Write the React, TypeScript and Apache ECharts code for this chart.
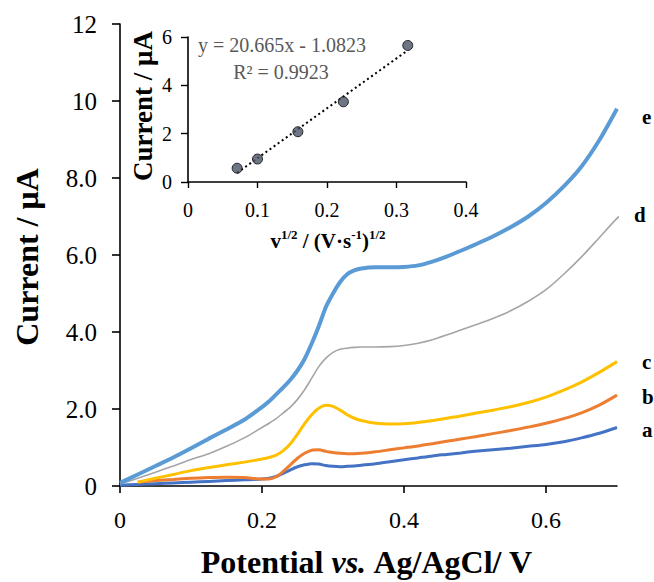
import React, { useEffect, useRef } from "react";
import * as echarts from "echarts";

// Main CV-like curves (Potential vs. Ag/AgCl / V  →  Current / µA)
const potentials = [
  0, 0.025, 0.05, 0.075, 0.1, 0.125, 0.15, 0.175, 0.2, 0.21, 0.22, 0.23, 0.24,
  0.25, 0.26, 0.27, 0.28, 0.29, 0.3, 0.31, 0.32, 0.33, 0.34, 0.36, 0.38, 0.4,
  0.42, 0.44, 0.46, 0.48, 0.5, 0.525, 0.55, 0.575, 0.6, 0.625, 0.65, 0.675, 0.7,
];
const curveA = [
  0.02, 0.04, 0.06, 0.08, 0.1, 0.12, 0.14, 0.16, 0.18, 0.2, 0.25, 0.33, 0.42,
  0.5, 0.55, 0.58, 0.57, 0.53, 0.51, 0.5, 0.51, 0.52, 0.54, 0.58, 0.63, 0.68,
  0.73, 0.78, 0.82, 0.86, 0.9, 0.94, 0.98, 1.03, 1.08, 1.15, 1.25, 1.37, 1.52,
];
const curveB = [
  null, 0.1, 0.14, 0.17, 0.2, 0.22, 0.23, 0.22, 0.18, 0.18, 0.24, 0.38, 0.55,
  0.72, 0.85, 0.93, 0.94, 0.9, 0.87, 0.85, 0.84, 0.84, 0.85, 0.89, 0.94, 0.99,
  1.04, 1.1, 1.16, 1.22, 1.28, 1.36, 1.44, 1.53, 1.63, 1.75, 1.9, 2.1, 2.36,
];
const curveC = [
  null, 0.1, 0.2, 0.3, 0.4, 0.48, 0.55, 0.62, 0.7, 0.74, 0.8, 0.92, 1.1, 1.35,
  1.62, 1.85, 2.02, 2.1, 2.07, 1.97, 1.85, 1.76, 1.7, 1.63, 1.61, 1.62, 1.65,
  1.7, 1.76, 1.82, 1.89, 1.97, 2.06, 2.17, 2.31, 2.49, 2.7, 2.95, 3.23,
];
const curveD = [
  0.05, 0.2, 0.36, 0.52, 0.69, 0.84, 1.03, 1.25, 1.52, 1.63, 1.75, 1.9, 2.05,
  2.25, 2.5, 2.8, 3.1, 3.32, 3.47, 3.55, 3.58, 3.6, 3.61, 3.61, 3.62, 3.65,
  3.71, 3.8, 3.92, 4.05, 4.18, 4.35, 4.55, 4.8, 5.1, 5.5, 5.95, 6.45, 6.95,
];
const curveDTailX = [0.714];
const curveDTailY = [7.17];
const curveE = [
  0.08, 0.3, 0.52, 0.74, 0.98, 1.23, 1.47, 1.72, 2.05, 2.2, 2.38, 2.56, 2.76,
  3.0, 3.3, 3.7, 4.15, 4.65, 5.0, 5.3, 5.5, 5.6, 5.65, 5.68, 5.68, 5.69, 5.73,
  5.83, 5.96, 6.11, 6.27, 6.48, 6.72, 7.0, 7.35, 7.78, 8.3, 8.98, 9.8,
];
const curveLetters = ["a", "b", "c", "d", "e"];
const curveColors = ["#4472C4", "#ED7D31", "#FFC000", "#A5A5A5", "#5B9BD5"];

const mainXTicks = [0, 0.2, 0.4, 0.6];
const mainYTickLabels: Record<number, string> = {
  0: "0", 2: "2.0", 4: "4.0", 6: "6.0", 8: "8.0", 10: "10", 12: "12",
};

// Inset: peak current vs. square root of scan rate
const sqrtScanRate = [0.0707, 0.1, 0.1581, 0.2236, 0.3162];
const peakCurrent = [0.57, 0.95, 2.08, 3.32, 5.65];
const trendX = [0.0707, 0.3162];
const trendY = [0.38, 5.45];
const equationText = "y = 20.665x - 1.0823";
const r2Text = "R² = 0.9923";

const SERIF = '"Liberation Serif", "Times New Roman", serif';

function pairs(xs: number[], ys: (number | null)[]) {
  const out: number[][] = [];
  xs.forEach((x, i) => {
    const y = ys[i];
    if (y !== null && y !== undefined) out.push([x, y]);
  });
  return out;
}

export default function App() {
  const ref = useRef<HTMLDivElement>(null);

  useEffect(() => {
    if (!ref.current) return;
    const chart = echarts.init(ref.current, undefined, { renderer: "svg" });

    const curves = [curveA, curveB, curveC, curveD, curveE];
    const widths = [3, 3, 3, 1.6, 4];
    const labelCfg = [
      { distance: 25, offset: [0, 3] },
      { distance: 25, offset: [0, 2] },
      { distance: 25, offset: [0, 0] },
      { distance: 15, offset: [0, -2] },
      { distance: 25, offset: [0, 8] },
    ];

    const mainSeries = curves.map((ys, i) => {
      let data = pairs(potentials, ys);
      if (i === 3) data = data.concat(pairs(curveDTailX, curveDTailY));
      return {
        type: "line",
        name: curveLetters[i],
        xAxisIndex: 0,
        yAxisIndex: 0,
        data,
        smooth: 0.25,
        showSymbol: false,
        clip: false,
        lineStyle: { color: curveColors[i], width: widths[i] },
        itemStyle: { color: curveColors[i] },
        endLabel: {
          show: true,
          formatter: curveLetters[i],
          color: "#000",
          fontFamily: SERIF,
          fontWeight: "bold",
          fontSize: 21,
          distance: labelCfg[i].distance,
          offset: labelCfg[i].offset,
        },
        z: 2 + i,
      };
    });

    const axisLine = { show: true, lineStyle: { color: "#000", width: 1.6 } };

    chart.setOption({
      animation: false,
      backgroundColor: "#fff",
      grid: [
        { left: 120, top: 24, right: 37, bottom: 96 },
        { left: 188, top: 37, width: 278, height: 145 },
      ],
      xAxis: [
        {
          type: "value",
          gridIndex: 0,
          min: 0,
          max: 0.7,
          interval: 0.2,
          axisLine,
          axisTick: {
            show: true,
            length: 7,
            inside: false,
            customValues: mainXTicks,
            lineStyle: { color: "#000", width: 1.6 },
          },
          axisLabel: {
            customValues: mainXTicks,
            color: "#000",
            fontFamily: SERIF,
            fontSize: 24,
            margin: 22,
            formatter: (v: number) => (v === 0 ? "0" : v.toFixed(1)),
          },
          splitLine: { show: false },
        },
        {
          type: "value",
          gridIndex: 1,
          min: 0,
          max: 0.4,
          interval: 0.1,
          axisLine,
          axisTick: { show: true, length: 6, lineStyle: { color: "#000", width: 1.4 } },
          axisLabel: {
            color: "#000",
            fontFamily: SERIF,
            fontSize: 20,
            margin: 18,
            formatter: (v: number) => (v === 0 ? "0" : v.toFixed(1)),
          },
          splitLine: { show: false },
        },
      ],
      yAxis: [
        {
          type: "value",
          gridIndex: 0,
          min: 0,
          max: 12,
          interval: 2,
          axisLine,
          axisTick: { show: true, length: 8, lineStyle: { color: "#000", width: 1.6 } },
          axisLabel: {
            color: "#000",
            fontFamily: SERIF,
            fontSize: 25,
            margin: 23,
            formatter: (v: number) => mainYTickLabels[v] ?? String(v),
          },
          splitLine: { show: false },
        },
        {
          type: "value",
          gridIndex: 1,
          min: 0,
          max: 6,
          interval: 2,
          axisLine,
          axisTick: { show: true, length: 7, lineStyle: { color: "#000", width: 1.4 } },
          axisLabel: {
            color: "#000",
            fontFamily: SERIF,
            fontSize: 20,
            margin: 16,
          },
          splitLine: { show: false },
        },
      ],
      series: [
        ...mainSeries,
        {
          type: "line",
          xAxisIndex: 1,
          yAxisIndex: 1,
          data: pairs(trendX, trendY),
          showSymbol: false,
          lineStyle: { color: "#000", width: 2, type: [2, 3] },
          z: 10,
        },
        {
          type: "scatter",
          xAxisIndex: 1,
          yAxisIndex: 1,
          data: pairs(sqrtScanRate, peakCurrent),
          symbol: "circle",
          symbolSize: 10,
          itemStyle: { color: "#4A5466", borderColor: "#000", borderWidth: 1 },
          z: 11,
        },
      ],
      graphic: [
        {
          type: "text",
          x: 27,
          y: 257,
          rotation: Math.PI / 2,
          style: {
            text: "Current / μA",
            fontFamily: SERIF,
            fontWeight: "bold",
            fontSize: 32,
            fill: "#000",
            align: "center",
            verticalAlign: "middle",
          },
        },
        {
          type: "text",
          x: 367,
          y: 562,
          style: {
            text: "{a|Potential }{b|vs.}{a| Ag/AgCl/ V}",
            fill: "#000",
            align: "center",
            verticalAlign: "middle",
            rich: {
              a: { fontFamily: SERIF, fontWeight: "bold", fontSize: 32, lineHeight: 36, fill: "#000" },
              b: {
                fontFamily: SERIF,
                fontWeight: "bold",
                fontStyle: "italic",
                fontSize: 32,
                lineHeight: 36,
                fill: "#000",
              },
            },
          },
        },
        {
          type: "text",
          x: 143,
          y: 106,
          rotation: Math.PI / 2,
          style: {
            text: "Current / μA",
            fontFamily: SERIF,
            fontWeight: "bold",
            fontSize: 27,
            fill: "#000",
            align: "center",
            verticalAlign: "middle",
          },
        },
        {
          type: "text",
          x: 328,
          y: 241,
          style: {
            text: "{b|v}{s|1/2}{b| / (V·s}{s|-1}{b|)}{s|1/2}",
            fill: "#000",
            align: "center",
            verticalAlign: "middle",
            rich: {
              b: { fontFamily: SERIF, fontWeight: "bold", fontSize: 21, lineHeight: 26, fill: "#000" },
              s: {
                fontFamily: SERIF,
                fontWeight: "bold",
                fontSize: 13,
                lineHeight: 26,
                verticalAlign: "top",
                fill: "#000",
              },
            },
          },
        },
        {
          type: "text",
          x: 282,
          y: 45,
          style: {
            text: equationText,
            fontFamily: SERIF,
            fontSize: 20,
            fill: "#595959",
            align: "center",
            verticalAlign: "middle",
          },
        },
        {
          type: "text",
          x: 281,
          y: 72,
          style: {
            text: r2Text,
            fontFamily: SERIF,
            fontSize: 20,
            fill: "#595959",
            align: "center",
            verticalAlign: "middle",
          },
        },
      ],
    });

    return () => chart.dispose();
  }, []);

  return (
    <div
      ref={ref}
      style={{ position: "fixed", left: 0, top: 0, width: 654, height: 582 }}
    />
  );
}
